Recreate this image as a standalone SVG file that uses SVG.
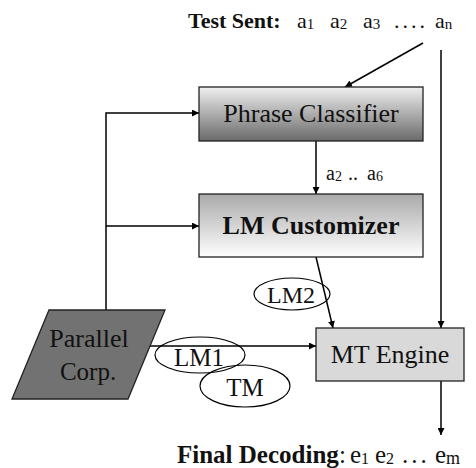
<svg xmlns="http://www.w3.org/2000/svg" width="476" height="468" viewBox="0 0 476 468">
  <defs>
    <linearGradient id="gradClassifier" x1="0" y1="0" x2="0" y2="1">
      <stop offset="0" stop-color="#efefef"/>
      <stop offset="1" stop-color="#6a6a6a"/>
    </linearGradient>
    <linearGradient id="gradCustomizer" x1="0" y1="0" x2="0" y2="1">
      <stop offset="0" stop-color="#a9a9a9"/>
      <stop offset="1" stop-color="#ffffff"/>
    </linearGradient>
    <marker id="arrow" viewBox="0 0 10 10" refX="10" refY="5" markerWidth="7" markerHeight="7" markerUnits="userSpaceOnUse" orient="auto">
      <path d="M0,0 L10,5 L0,10 z" fill="#000"/>
    </marker>
  </defs>
  <style>
    .box { stroke: #222; stroke-width: 1.3; }
    .conn { fill: none; stroke: #000; stroke-width: 1.5; }
    .oval { fill: none; stroke: #000; stroke-width: 1.2; }
    .lbl { font-family: "Liberation Serif", "Times New Roman", serif; fill: #111; }
  </style>
  <rect width="476" height="468" fill="#ffffff"/>

  <!-- connectors -->
  <g id="connectors">
    <line class="conn" x1="423" y1="43" x2="345" y2="87" marker-end="url(#arrow)"/>
    <line class="conn" x1="441" y1="50" x2="441" y2="328" marker-end="url(#arrow)"/>
    <polyline class="conn" points="106,310 106,113 199,113" marker-end="url(#arrow)"/>
    <line class="conn" x1="106" y1="226" x2="199" y2="226" marker-end="url(#arrow)"/>
    <line class="conn" x1="316" y1="141" x2="316" y2="194" marker-end="url(#arrow)"/>
    <line class="conn" x1="316" y1="257" x2="333" y2="328" marker-end="url(#arrow)"/>
    <line class="conn" x1="150" y1="346" x2="316" y2="346" marker-end="url(#arrow)"/>
    <line class="conn" x1="441" y1="381" x2="441" y2="435" marker-end="url(#arrow)"/>
  </g>

  <!-- input sentence -->
  <g id="test-sent">
    <text class="lbl" x="188" y="28" font-size="22" font-weight="bold">Test Sent:</text>
    <text class="lbl" y="28" font-size="22">
      <tspan x="297">a</tspan><tspan font-size="15" dy="1">1</tspan>
      <tspan x="330" dy="-1">a</tspan><tspan font-size="15" dy="1">2</tspan>
      <tspan x="363" dy="-1">a</tspan><tspan font-size="15" dy="1">3</tspan>
      <tspan x="394" dy="-1" letter-spacing="3">....</tspan>
      <tspan x="435">a</tspan><tspan font-size="15" dy="1">n</tspan>
    </text>
  </g>

  <g id="phrase-classifier">
    <rect class="box" x="199" y="87" width="224" height="54" fill="url(#gradClassifier)"/>
    <text class="lbl" x="311" y="122" font-size="26" text-anchor="middle">Phrase Classifier</text>
  </g>

  <g id="phrase-label">
    <text class="lbl" y="180" font-size="20">
      <tspan x="326">a</tspan><tspan font-size="14" dy="1">2</tspan>
      <tspan x="348" dy="-1">..</tspan>
      <tspan x="367">a</tspan><tspan font-size="14" dy="1">6</tspan>
    </text>
  </g>

  <g id="lm-customizer">
    <rect class="box" x="199" y="194" width="224" height="63" fill="url(#gradCustomizer)"/>
    <text class="lbl" x="311" y="234" font-size="26" font-weight="bold" text-anchor="middle">LM Customizer</text>
  </g>

  <g id="lm2">
    <ellipse class="oval" cx="292" cy="294" rx="38" ry="16"/>
    <text class="lbl" x="291" y="303" font-size="24" text-anchor="middle">LM2</text>
  </g>

  <g id="parallel-corp">
    <polygon class="box" points="49,310 165,310 128,399 12,399" fill="#727272"/>
    <text class="lbl" x="89" y="347" font-size="26" text-anchor="middle">Parallel</text>
    <text class="lbl" x="88" y="380" font-size="25" text-anchor="middle">Corp.</text>
  </g>

  <g id="lm1">
    <ellipse class="oval" cx="200" cy="355" rx="45" ry="18"/>
    <text class="lbl" x="199" y="366" font-size="25" text-anchor="middle">LM1</text>
  </g>

  <g id="tm">
    <ellipse class="oval" cx="245" cy="386" rx="45" ry="21"/>
    <text class="lbl" x="245" y="396" font-size="25" text-anchor="middle">TM</text>
  </g>

  <g id="mt-engine">
    <rect class="box" x="316" y="328" width="148" height="53" fill="#d9d9d9"/>
    <text class="lbl" x="390" y="363" font-size="26" text-anchor="middle">MT Engine</text>
  </g>

  <!-- output sentence -->
  <g id="final-decoding">
    <text class="lbl" x="177" y="463" font-size="25" font-weight="bold">Final Decoding</text>
    <text class="lbl" y="463" font-size="25">
      <tspan x="339">:</tspan>
      <tspan x="350">e</tspan><tspan font-size="16" dy="1">1</tspan>
      <tspan x="375" dy="-1">e</tspan><tspan font-size="16" dy="1">2</tspan>
      <tspan x="402" dy="-1" letter-spacing="3">...</tspan>
      <tspan x="435">e</tspan><tspan font-size="18" dy="1">m</tspan>
    </text>
  </g>
</svg>
